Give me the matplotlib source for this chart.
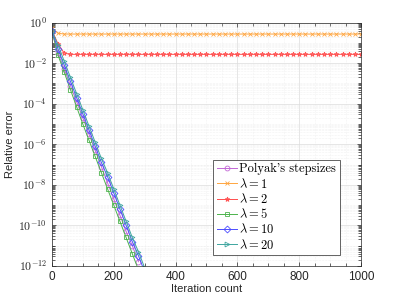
import numpy as np
import matplotlib.pyplot as plt
from matplotlib.ticker import FixedLocator, FuncFormatter, LogLocator, MultipleLocator, NullFormatter

plt.rcParams['mathtext.fontset'] = 'cm'
plt.rcParams['font.family'] = ['Liberation Sans', 'DejaVu Sans']

# Iterations where markers sit
iters_desc = [0, 20, 40, 60, 80, 100, 120, 140, 160, 180, 200, 220, 240, 260, 280, 300]
iters_flat = list(range(0, 1001, 20))

# log10 of the relative error
log_polyak = [-0.45, -1.5, -2.3, -3.1, -3.9, -4.7, -5.5, -6.3, -7.1, -7.9, -8.7, -9.5, -10.3, -11.0, -11.8]
log_lam5 = [-0.4, -1.6, -2.45, -3.3, -4.15, -5.0, -5.8, -6.6, -7.4, -8.2, -9.0, -9.8, -10.6, -11.4, -12.2]
log_lam10 = [-0.4, -1.3, -2.1, -2.9, -3.7, -4.5, -5.3, -6.1, -6.9, -7.6, -8.4, -9.2, -10.0, -10.8, -11.5, -12.3]
log_lam20 = [-0.4, -1.1, -1.9, -2.7, -3.5, -4.3, -5.1, -5.9, -6.7, -7.4, -8.2, -9.0, -9.8, -10.6, -11.3, -12.1]
log_lam1 = [-0.26, -0.52] + [-0.56] * 49
log_lam2 = [-0.36, -1.05, -1.5] + [-1.56] * 48

labels = ["Polyak's stepsizes", r"$\lambda = 1$", r"$\lambda = 2$",
          r"$\lambda = 5$", r"$\lambda = 10$", r"$\lambda = 20$"]
colors = ['#c267d6', '#ffa640', '#ff4d4d', '#4cb34c', '#4d4dff', '#3fa6a0']
markers = ['o', 'x', '*', 's', 'D', '>']

series = [
    (iters_desc[:len(log_polyak)], log_polyak),
    (iters_flat, log_lam1),
    (iters_flat, log_lam2),
    (iters_desc[:len(log_lam5)], log_lam5),
    (iters_desc[:len(log_lam10)], log_lam10),
    (iters_desc[:len(log_lam20)], log_lam20),
]

fig = plt.figure(figsize=(3.99, 2.99), dpi=100)
ax = fig.add_axes([0.13, 0.111, 0.775, 0.813])

for (x, ly), lab, c, m in zip(series, labels, colors, markers):
    ax.semilogy(x, 10.0 ** np.array(ly), color=c, marker=m, markersize=3.5,
                markerfacecolor='none', markeredgewidth=0.6, linewidth=0.7, label=lab)

ax.set_xlim(0, 1000)
ax.set_ylim(1e-12, 1)
ax.xaxis.set_major_locator(MultipleLocator(200))
ax.xaxis.set_minor_locator(MultipleLocator(50))
ax.yaxis.set_major_locator(FixedLocator([10.0 ** k for k in range(-12, 1, 2)]))
ax.yaxis.set_minor_locator(LogLocator(base=10, subs=np.arange(1, 10), numticks=50))
ax.yaxis.set_major_formatter(FuncFormatter(lambda v, p: r'$\mathsf{10^{%d}}$' % round(np.log10(v))))
ax.yaxis.set_minor_formatter(NullFormatter())

ax.grid(True, which='major', color='#dcdcdc', linewidth=0.5)
ax.grid(True, which='minor', color='#e6e6e6', linewidth=0.4, linestyle=':')
ax.set_axisbelow(True)
ax.tick_params(which='both', direction='in', top=True, right=True, labelsize=8.5,
               colors='#262626', width=0.5)
ax.tick_params(which='minor', length=2)
ax.tick_params(which='major', length=3)
for s in ax.spines.values():
    s.set_color('#262626')
    s.set_linewidth(0.5)

ax.set_xlabel('Iteration count', fontsize=8, color='#262626', labelpad=1)
ax.set_ylabel('Relative error', fontsize=8, color='#262626', labelpad=2)

leg = ax.legend(loc='upper right', bbox_to_anchor=(0.932, 0.437), fontsize=9,
                fancybox=False, framealpha=1, edgecolor='#262626', handlelength=1.6,
                handletextpad=0.2, borderpad=0.3, labelspacing=0.1, borderaxespad=0)
leg.get_frame().set_linewidth(0.5)
leg.get_texts()[0].set_family(['cmr10', 'DejaVu Serif'])

fig.savefig('out.png', dpi=100)
